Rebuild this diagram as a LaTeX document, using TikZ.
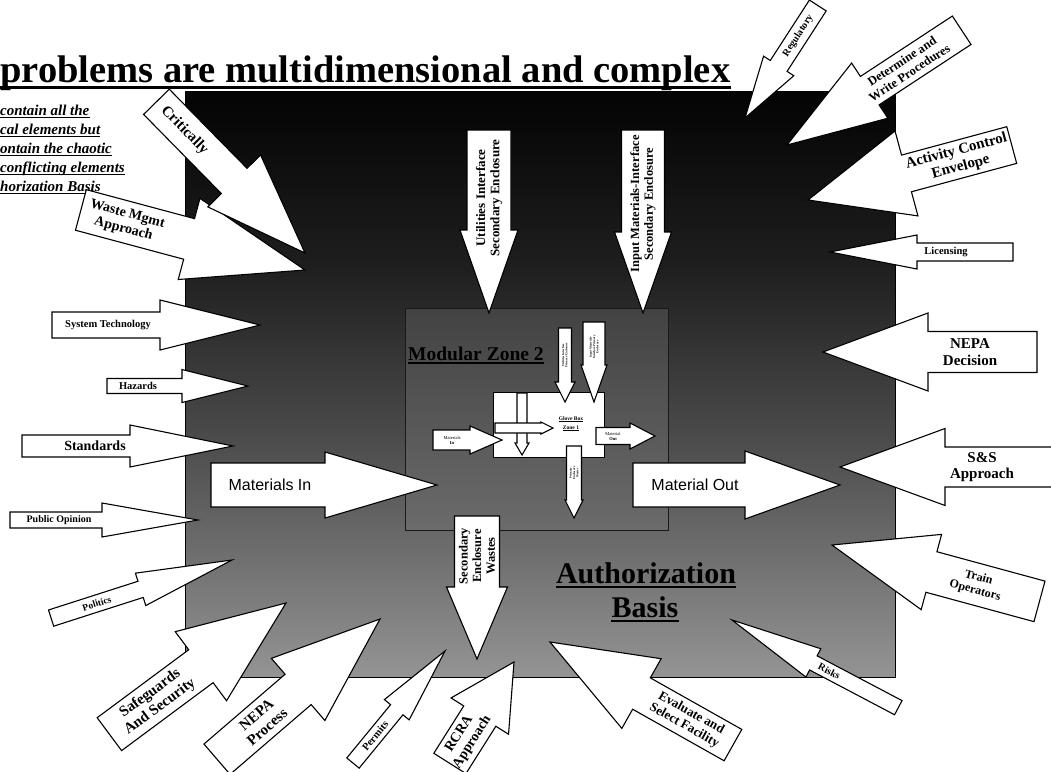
\documentclass[tikz,border=0pt]{standalone}
\usepackage{fontspec}
\setmainfont{Liberation Serif}
\newfontfamily\arial{Liberation Sans}
\pgfdeclareverticalshading{bgsh}{100bp}{color(0bp)=(black!16); color(10bp)=(black!24); color(25bp)=(black!42); color(45bp)=(black!70); color(60bp)=(black!88); color(74bp)=(black!98); color(100bp)=(black)}
\tikzset{
  arrowshape/.style={draw=black, fill=white, line width=1.1pt, line join=miter},
  arrowtext/.style={inner sep=0pt, align=center, text=black},
  uline/.style={line width=#1},
}
\newcounter{arc}
% #1 tip, #2 direction angle, #3 total length, #4 body half width, #5 head half width,
% #6 head length, #7 text distance from tip, #8 font size, #9 text
\newcommand\barrow[9]{%
  \stepcounter{arc}%
  \begin{scope}[shift={#1},rotate=#2]
    \draw[arrowshape] (0,0) -- (-#6,#5) -- (-#6,#4) -- (-#3,#4) -- (-#3,-#4) -- (-#6,-#4) -- (-#6,-#5) -- cycle;
    \pgfmathsetmacro\tr{cos(#2)>0.01 ? #2 : #2+180}%
    \pgfmathsetmacro\ls{#8*1.1}%
    \node[arrowtext,rotate=\tr,font=\bfseries\fontsize{#8}{\ls}\selectfont] (arrow\thearc) at (-#7,0) {#9};
  \end{scope}}
\newcommand\ulnode[3]{% name, position, text (for side note lines)
  \node (#1) at #2 {#3};
  \draw[uline=1.2pt] ([yshift=-2.5pt]#1.base west) -- ([yshift=-2.5pt]#1.base east);}
\begin{document}
\begin{tikzpicture}[x=1pt,y=-1pt]
\useasboundingbox (0,0) rectangle (1051,771);
\clip (0,0) rectangle (1051,771);
\fill[white] (0,0) rectangle (1051,771);

% title
\node[anchor=base west, inner sep=0pt, font=\bfseries\fontsize{38.5}{40}\selectfont] (title) at (0,82) {problems are multidimensional and complex};
\draw[uline=3pt] ([yshift=-5pt]title.base west) -- ([yshift=-5pt]title.base east);

% side note
\begin{scope}[every node/.style={anchor=base west, inner sep=0pt, font=\bfseries\itshape\fontsize{15}{16}\selectfont}]
\ulnode{n1}{(0,115)}{contain all the}
\ulnode{n2}{(0,134)}{cal elements but}
\ulnode{n3}{(0,153)}{ontain the chaotic}
\ulnode{n4}{(0,172)}{conflicting elements}
\ulnode{n5}{(0,191)}{horization Basis}
\end{scope}

% background field
\shade[shading=bgsh] (185,91) rectangle (895,677);
\draw[line width=0.8pt] (185,91) rectangle (895,677);

% modular zone 2
\draw[line width=1pt, draw=black!90, top color=black!74, bottom color=black!58] (405,308) rectangle (668,530);
\node[anchor=base west, inner sep=0pt, font=\bfseries\fontsize{19.5}{20}\selectfont] (mz) at (408,360) {Modular Zone 2};
\draw[uline=1.5pt] ([yshift=-3pt]mz.base west) -- ([yshift=-3pt]mz.base east);

% glove box
\draw[fill=white, line width=0.8pt] (493,392) rectangle (604,457);
\node[anchor=base, inner sep=0pt, font=\bfseries\fontsize{5.5}{7}\selectfont] (gb1) at (571,420) {Glove Box};
\draw[uline=0.6pt] ([yshift=-1pt]gb1.base west) -- ([yshift=-1pt]gb1.base east);
\node[anchor=base, inner sep=0pt, font=\bfseries\fontsize{5.5}{7}\selectfont] (gb2) at (571,429) {Zone 1};
\draw[uline=0.6pt] ([yshift=-1pt]gb2.base west) -- ([yshift=-1pt]gb2.base east);

% small arrows around glove box
\barrow{(502,440)}{0}{69}{10}{14}{32}{50}{4.5}{\mdseries Materials\\In}
\barrow{(655,436)}{0}{59}{8.5}{13}{25}{42}{4.5}{\mdseries Material\\Out}
\barrow{(565,402)}{-90}{74}{6.5}{10}{20}{47}{3}{Utilities Interface\\Primary Enclosure}
\barrow{(594,402)}{-90}{80}{11}{13}{37}{55}{3}{Input Materials-\\Interface Primary\\Enclosure}
\barrow{(574,518)}{-90}{72}{7.5}{9}{18}{45}{3}{Primary\\Enclosure\\Wastes}
\barrow{(522,455)}{-90}{62}{5}{7}{12}{35}{3}{}
\barrow{(553,428)}{0}{58}{5}{6}{12}{32}{3}{}

% big arrows into the field
\barrow{(489,313)}{-90}{183}{22}{29}{83}{115}{13}{Utilities Interface\\Secondary Enclosure}
\barrow{(643,313)}{-90}{183}{21.5}{28.5}{81}{109}{12.5}{Input Materials-Interface\\Secondary Enclosure}
\barrow{(477,659)}{-90}{143}{22.5}{30.5}{72}{103}{12.5}{Secondary\\Enclosure\\Wastes}
\barrow{(437,485)}{0}{226}{22}{33}{112}{167}{16}{\mdseries\arial Materials In}
\barrow{(840,485)}{0}{207}{22}{34}{95}{145}{16}{\mdseries\arial Material Out}

% left side
\barrow{(305,270)}{-15}{232}{21}{42}{120}{186}{14}{Waste Mgmt\\Approach}
\barrow{(305,253)}{-45.5}{212}{18}{37}{101}{172}{15}{Critically}
\barrow{(260,325)}{0}{208}{13}{25}{100}{152}{10.5}{System Technology}
\barrow{(248,386)}{0}{141}{7.5}{16.5}{66}{110}{10.5}{Hazards}
\barrow{(233,446)}{0}{211}{11}{21}{103}{138}{14}{Standards}
\barrow{(198,520)}{0}{188}{8}{17}{96}{139}{10}{Public Opinion}
\barrow{(232,560)}{17.8}{190}{8.5}{17}{96}{142}{9.5}{Politics}

% bottom
\barrow{(286,603)}{36.6}{220}{20.5}{43}{106}{163}{15}{Safeguards\\And Security}
\barrow{(380,619)}{40.7}{215}{20}{41}{108}{156}{15}{NEPA\\Process}
\barrow{(445,651)}{50.6}{145}{8}{16}{76}{110}{10.5}{Permits}
\barrow{(514,662)}{57.7}{120}{19}{34}{64}{90}{14}{RCRA\\Approach}
\barrow{(550,642)}{150.6}{210}{18}{40}{105}{158}{13}{Evaluate and\\Select Facility}
\barrow{(732,620)}{152.2}{188}{8}{16}{92}{110}{10}{Risks}

% right side
\barrow{(832,545)}{164.8}{215}{21}{39}{103}{150}{12}{Train\\Operators}
\barrow{(840,467)}{180}{215}{20}{38.5}{105}{142}{15}{S\&S\\Approach}
\barrow{(823,352)}{180}{214}{20.5}{39}{105}{147}{15}{NEPA\\Decision}
\barrow{(830,252)}{180}{183}{9}{17}{87}{116}{10.5}{Licensing}
\barrow{(808,200)}{-164.9}{211}{19}{44}{102}{156}{15}{Activity Control\\Envelope}
\barrow{(787,145)}{-146.7}{209}{17}{33}{99}{142}{12.5}{Determine and\\Write Procedures}
\barrow{(745,118)}{-122.9}{134}{10}{18}{62}{98}{10}{Regulatory}

% authorization basis
\node[anchor=base, inner sep=0pt, font=\bfseries\fontsize{30}{30}\selectfont] (auth) at (646,583) {Authorization};
\draw[uline=2.5pt] ([yshift=-4pt]auth.base west) -- ([yshift=-4pt]auth.base east);
\node[anchor=base, inner sep=0pt, font=\bfseries\fontsize{30}{30}\selectfont] (basis) at (645,617) {Basis};
\draw[uline=2.5pt] ([yshift=-4pt]basis.base west) -- ([yshift=-4pt]basis.base east);
\end{tikzpicture}
\end{document}
